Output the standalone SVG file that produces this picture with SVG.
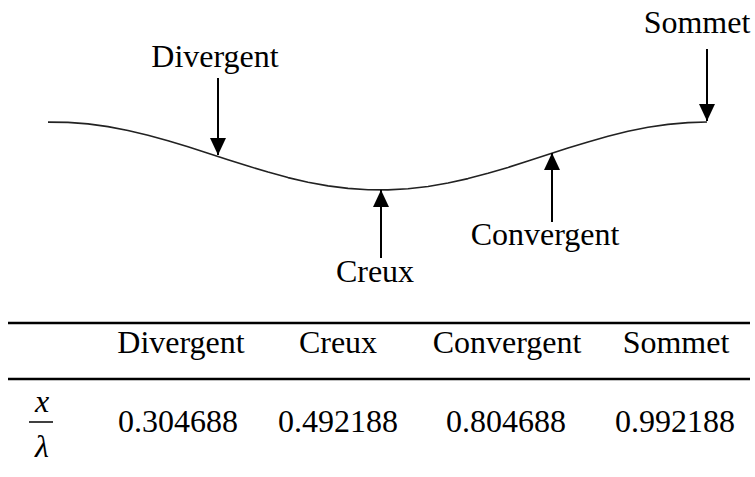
<svg xmlns="http://www.w3.org/2000/svg" width="755" height="477" viewBox="0 0 755 477">
<style>
text{font-size:32px;fill:#000;text-anchor:middle}
.ar{stroke:#000;stroke-width:2;fill:none}
.rule{stroke:#000;stroke-width:2.5}
.it{font-style:italic}
</style>
<defs>
<marker id="ah" markerUnits="userSpaceOnUse" markerWidth="18" markerHeight="16" viewBox="0 0 18 16" refX="17" refY="8" orient="auto">
<path d="M0,0 L17,8 L0,16 Z" fill="#000"/>
</marker>
</defs>
<g font-family="'Liberation Serif', 'Times New Roman', 'DejaVu Serif', serif">
<g id="curve">
<polyline fill="none" stroke="#222" stroke-width="1.6" stroke-linejoin="round" points="48,122.1 68,122.4 88,123.9 108,126.6 128,130.5 148,135.2 168,140.7 188,146.8 208,153.2 228,159.8 248,166.1 268,172.1 288,177.6 308,182.2 328,185.9 348,188.4 368,189.8 388,189.9 408,188.8 428,186.5 448,183 468,178.6 488,173.3 508,167.4 528,161 548,154.5 568,148.1 588,141.9 608,136.3 628,131.3 648,127.3 668,124.4 688,122.6 707,122"/>
</g>
<g id="connectors">
<line class="ar" x1="218" y1="78" x2="218" y2="155" marker-end="url(#ah)"/>
<line class="ar" x1="381" y1="258" x2="381" y2="190" marker-end="url(#ah)"/>
<line class="ar" x1="552" y1="222" x2="552" y2="153" marker-end="url(#ah)"/>
<line class="ar" x1="707" y1="49" x2="707" y2="121" marker-end="url(#ah)"/>
</g>
<g id="label-divergent"><text x="215" y="67">Divergent</text></g>
<g id="label-creux"><text x="375" y="282">Creux</text></g>
<g id="label-convergent"><text x="545" y="245">Convergent</text></g>
<g id="label-sommet"><text x="697" y="33">Sommet</text></g>
<g id="table">
<line class="rule" x1="8" y1="323" x2="750" y2="323"/>
<line class="rule" x1="8" y1="379" x2="750" y2="379"/>
<text x="181" y="353">Divergent</text>
<text x="338" y="353">Creux</text>
<text x="507" y="353">Convergent</text>
<text x="676" y="353">Sommet</text>
<text class="it" x="42" y="412">x</text>
<line x1="29" y1="422" x2="53" y2="422" stroke="#000" stroke-width="1.5"/>
<text class="it" x="42" y="457">λ</text>
<text x="178" y="432">0.304688</text>
<text x="338" y="432">0.492188</text>
<text x="506" y="432">0.804688</text>
<text x="675" y="432">0.992188</text>
</g>
</g>
</svg>
